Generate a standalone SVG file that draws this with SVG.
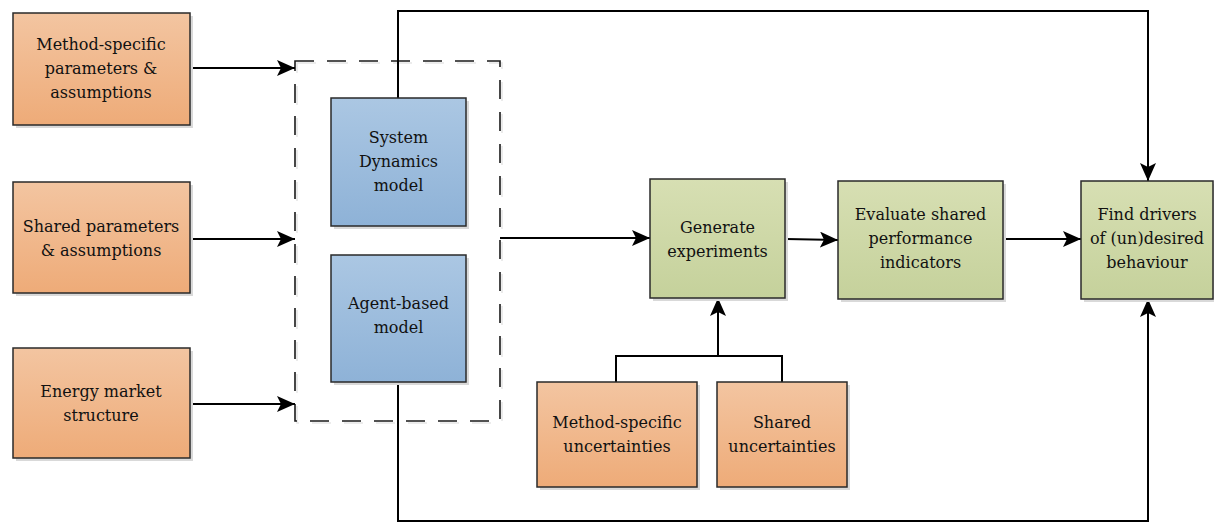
<svg xmlns="http://www.w3.org/2000/svg" width="1214" height="523" viewBox="0 0 1214 523">
  <defs>
    <linearGradient id="gOrange" x1="0" y1="0" x2="0" y2="1">
      <stop offset="0" stop-color="#f3c5a1"/>
      <stop offset="1" stop-color="#eeab78"/>
    </linearGradient>
    <linearGradient id="gBlue" x1="0" y1="0" x2="0" y2="1">
      <stop offset="0" stop-color="#abc7e3"/>
      <stop offset="1" stop-color="#8eb2d7"/>
    </linearGradient>
    <linearGradient id="gGreen" x1="0" y1="0" x2="0" y2="1">
      <stop offset="0" stop-color="#d7dfb3"/>
      <stop offset="1" stop-color="#c5d19b"/>
    </linearGradient>
    <marker id="arrow" viewBox="0 0 18 16" refX="18" refY="8" markerWidth="18" markerHeight="16" orient="auto" markerUnits="userSpaceOnUse">
      <path d="M0,0 L18,8 L0,16 L4,8 z" fill="#000"/>
    </marker>
  </defs>
  <style>
    .shadow { fill: #d9d9d9; }
    .box { stroke: #2a2a2a; stroke-width: 1.5; }
    .orange { fill: url(#gOrange); }
    .blue { fill: url(#gBlue); }
    .green { fill: url(#gGreen); }
    .lbl { font-family: "DejaVu Serif", "Liberation Serif", serif; font-size: 16px; fill: #111; text-anchor: middle; }
    .conn { fill: none; stroke: #000; stroke-width: 2; }
    .arr { marker-end: url(#arrow); }
    .dash { fill: none; stroke: #1a1a1a; stroke-width: 1.6; stroke-dasharray: 19 13; }
  </style>

  <rect width="1214" height="523" fill="#ffffff"/>

  <!-- container around the two simulation models -->
  <g id="model-frame">
    <path d="M297,63 L502,63 L502,423 L297,423 Z" fill="none" stroke="#e6e6e6" stroke-width="1.6" stroke-dasharray="19 13"/>
    <path class="dash" d="M295,61 L500,61 L500,421 L295,421 Z"/>
  </g>

  <!-- connectors -->
  <g id="connectors">
    <line class="conn arr" x1="190" y1="68" x2="295" y2="68"/>
    <line class="conn arr" x1="190" y1="239" x2="295" y2="239"/>
    <line class="conn arr" x1="190" y1="404" x2="295" y2="404"/>
    <line class="conn arr" x1="500" y1="238" x2="650" y2="238"/>
    <line class="conn arr" x1="786" y1="239" x2="838" y2="240"/>
    <line class="conn arr" x1="1003" y1="239" x2="1081" y2="239"/>
    <polyline class="conn arr" points="398,98 398,11 1148,11 1148,181"/>
    <polyline class="conn arr" points="398,382 398,521 1148,521 1148,299"/>
    <polyline class="conn" points="616,382 616,356 782,356 782,382"/>
    <line class="conn arr" x1="718" y1="356" x2="718" y2="298"/>
  </g>

  <g id="method-params">
    <rect class="shadow" x="16" y="16" width="177" height="112"/>
    <rect class="box orange" x="13" y="13" width="177" height="112"/>
    <text class="lbl"><tspan x="101" y="50">Method-specific</tspan><tspan x="101" y="74">parameters &amp;</tspan><tspan x="101" y="98">assumptions</tspan></text>
  </g>

  <g id="shared-params">
    <rect class="shadow" x="16" y="185" width="177" height="111"/>
    <rect class="box orange" x="13" y="182" width="177" height="111"/>
    <text class="lbl"><tspan x="101" y="232">Shared parameters</tspan><tspan x="101" y="256">&amp; assumptions</tspan></text>
  </g>

  <g id="market-structure">
    <rect class="shadow" x="16" y="351" width="177" height="110"/>
    <rect class="box orange" x="13" y="348" width="177" height="110"/>
    <text class="lbl"><tspan x="101" y="397">Energy market</tspan><tspan x="101" y="421">structure</tspan></text>
  </g>

  <g id="sd-model">
    <rect class="shadow" x="334" y="101" width="135" height="128"/>
    <rect class="box blue" x="331" y="98" width="135" height="128"/>
    <text class="lbl"><tspan x="398.5" y="143">System</tspan><tspan x="398.5" y="167">Dynamics</tspan><tspan x="398.5" y="191">model</tspan></text>
  </g>

  <g id="ab-model">
    <rect class="shadow" x="334" y="258" width="135" height="127"/>
    <rect class="box blue" x="331" y="255" width="135" height="127"/>
    <text class="lbl"><tspan x="398.5" y="309">Agent-based</tspan><tspan x="398.5" y="333">model</tspan></text>
  </g>

  <g id="generate-experiments">
    <rect class="shadow" x="653" y="182" width="135" height="119"/>
    <rect class="box green" x="650" y="179" width="135" height="119"/>
    <text class="lbl"><tspan x="717.5" y="233">Generate</tspan><tspan x="717.5" y="257">experiments</tspan></text>
  </g>

  <g id="evaluate-indicators">
    <rect class="shadow" x="841" y="184" width="165" height="118"/>
    <rect class="box green" x="838" y="181" width="165" height="118"/>
    <text class="lbl"><tspan x="920.5" y="220">Evaluate shared</tspan><tspan x="920.5" y="244">performance</tspan><tspan x="920.5" y="268">indicators</tspan></text>
  </g>

  <g id="find-drivers">
    <rect class="shadow" x="1084" y="184" width="132" height="118"/>
    <rect class="box green" x="1081" y="181" width="132" height="118"/>
    <text class="lbl"><tspan x="1147" y="220">Find drivers</tspan><tspan x="1147" y="244">of (un)desired</tspan><tspan x="1147" y="268">behaviour</tspan></text>
  </g>

  <g id="method-uncertainties">
    <rect class="shadow" x="540" y="385" width="160" height="105"/>
    <rect class="box orange" x="537" y="382" width="160" height="105"/>
    <text class="lbl"><tspan x="617" y="428">Method-specific</tspan><tspan x="617" y="452">uncertainties</tspan></text>
  </g>

  <g id="shared-uncertainties">
    <rect class="shadow" x="720" y="385" width="130" height="105"/>
    <rect class="box orange" x="717" y="382" width="130" height="105"/>
    <text class="lbl"><tspan x="782" y="428">Shared</tspan><tspan x="782" y="452">uncertainties</tspan></text>
  </g>
</svg>
